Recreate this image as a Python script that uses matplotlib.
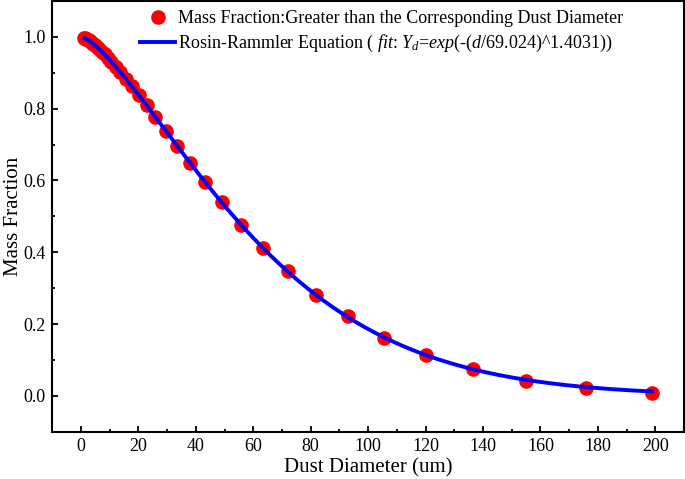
"""
Mass fraction vs dust diameter with the Rosin-Rammler fit.
Writes out.png
"""

import matplotlib
matplotlib.use("Agg")
import matplotlib.pyplot as plt
import numpy as np
from matplotlib.ticker import MultipleLocator

# --------------------------------------------------------------------------- #
# Data                                                   #
# --------------------------------------------------------------------------- #
diameter = [1.2, 1.4, 1.6, 1.8, 2.0, 2.3, 2.6, 3.0, 3.4, 3.8, 4.3,
            4.9, 5.6, 6.4, 7.2, 8.2, 9.3, 10.6, 12.1, 13.7, 15.6, 17.7, 20.1,
            22.8, 25.9, 29.5, 33.5, 38.0, 43.2, 49.1, 55.8, 63.4, 72.0, 81.8,
            93.0, 105.6, 120.0, 136.4, 155.0, 176.0, 199.0]
mass_frac = [0.996, 0.996, 0.995, 0.994, 0.993, 0.992, 0.990,
             0.988, 0.985, 0.983, 0.980, 0.976, 0.971, 0.965, 0.959, 0.951,
             0.942, 0.930, 0.917, 0.902, 0.883, 0.862, 0.838, 0.809, 0.778,
             0.739, 0.697, 0.649, 0.596, 0.539, 0.477, 0.413, 0.347, 0.282,
             0.221, 0.162, 0.115, 0.074, 0.042, 0.023, 0.009]

# Rosin-Rammler parameters as printed in the legend
rr_d0 = 69.024
rr_n = 1.4031

point_label = "Mass Fraction:Greater than the Corresponding Dust Diameter"
fit_label = (r"Rosin-Rammler Equation ( $\mathit{fit}$: $Y_d$=$\mathit{exp(}$-"
             r"$\mathit{(d/69.024)}$^$\mathit{1.4031)}$)")

# --------------------------------------------------------------------------- #
# Style                                                                        #
# --------------------------------------------------------------------------- #
plt.rcParams["font.family"] = ["Liberation Serif", "DejaVu Serif"]
plt.rcParams["mathtext.fontset"] = "custom"
plt.rcParams["mathtext.rm"] = "Liberation Serif"
plt.rcParams["mathtext.it"] = "Liberation Serif:italic"
plt.rcParams["mathtext.default"] = "it"

fig = plt.figure(figsize=(6.85, 4.79), dpi=100)
ax = fig.add_axes([0.0764, 0.0987, 0.9221, 0.8993])

d_fit = np.linspace(diameter[0], diameter[-1], 400)
y_fit = np.exp(-(d_fit / rr_d0) ** rr_n)

ax.plot(diameter, mass_frac, "o", color="#FF0000", ms=9.5, mec="#FF0000",
        label=point_label, zorder=2)
ax.plot(d_fit, y_fit, "-", color="#0000FF", lw=2.8, label=fit_label, zorder=3)

ax.set_xlim(-10, 210)
ax.set_ylim(-0.1, 1.1)
ax.xaxis.set_major_locator(MultipleLocator(20))
ax.xaxis.set_minor_locator(MultipleLocator(10))
ax.yaxis.set_major_locator(MultipleLocator(0.2))
ax.yaxis.set_minor_locator(MultipleLocator(0.1))
ax.yaxis.set_major_formatter(plt.FormatStrFormatter("%.1f"))

ax.tick_params(which="both", direction="in", width=1.3, labelsize=13)
ax.tick_params(which="major", length=4.3)
ax.tick_params(which="minor", length=2.2)
ax.tick_params(axis="y", pad=4.7)
ax.tick_params(axis="x", pad=4.5)
for sp in ax.spines.values():
    sp.set_linewidth(1.5)

ax.set_xlabel("Dust Diameter (um)", fontsize=15, labelpad=2)
ax.set_ylabel("Mass Fraction", fontsize=15, labelpad=0)

ax.legend(loc="upper left", bbox_to_anchor=(0.139, 0.978), frameon=False,
          fontsize=13, handlelength=1.95, handletextpad=0.12,
          borderaxespad=0, borderpad=0, labelspacing=0.3)

fig.savefig("out.png", dpi=100)
